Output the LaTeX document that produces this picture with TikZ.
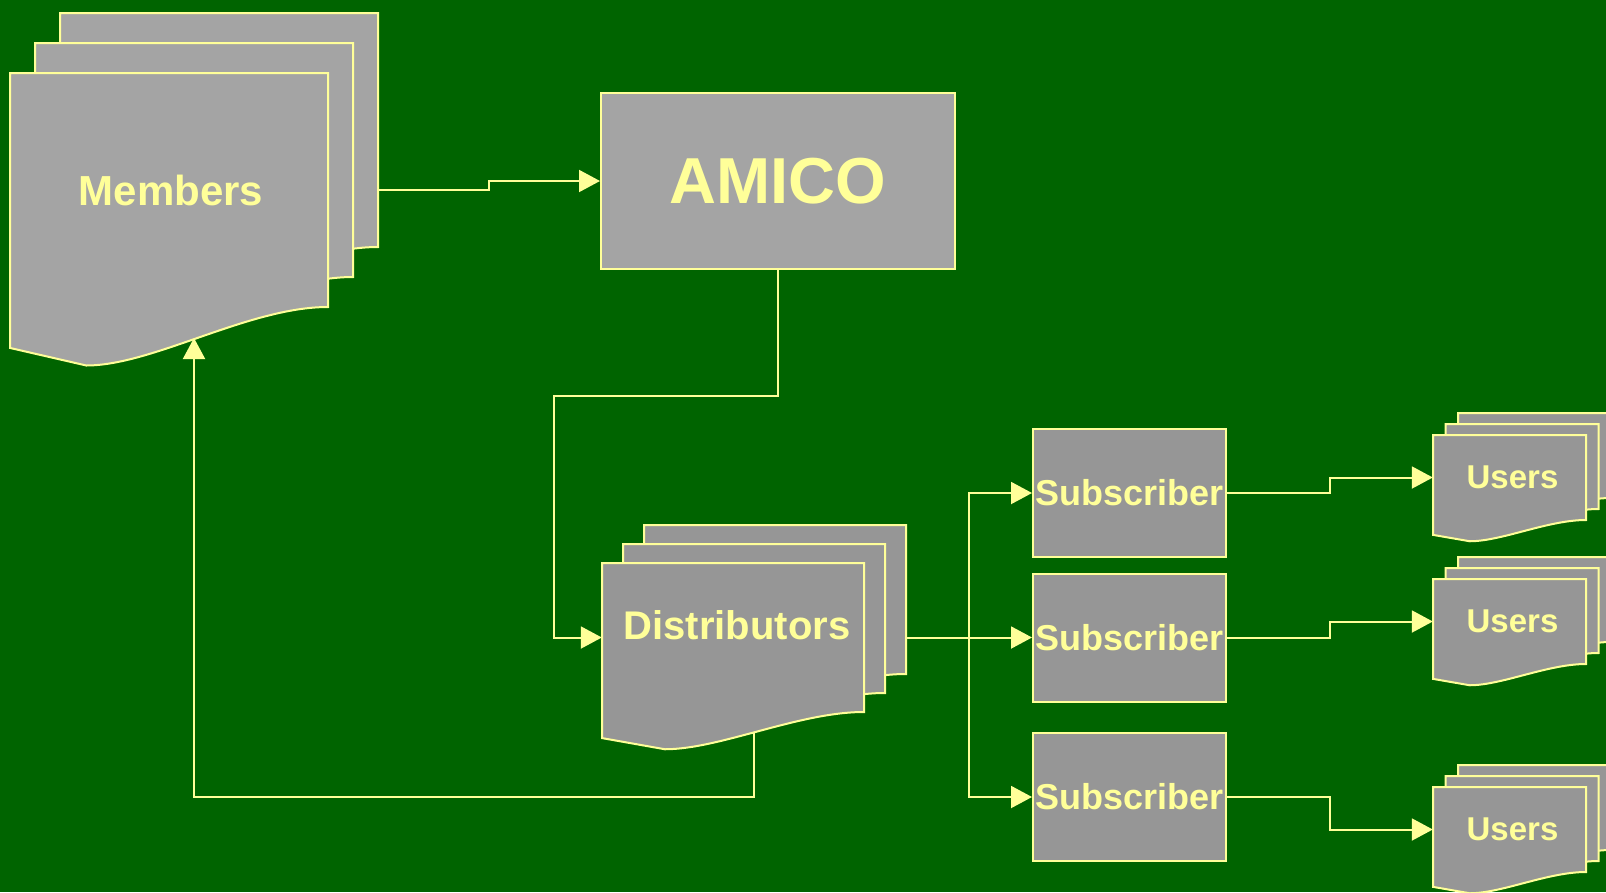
\documentclass[tikz,border=0pt]{standalone}
\usepackage{fontspec}
\setmainfont{Liberation Sans}
\usetikzlibrary{arrows.meta,positioning}

\definecolor{bggreen}{RGB}{0,100,0}
\definecolor{paleyellow}{RGB}{255,255,153}
\definecolor{sheetgray}{RGB}{164,164,164}
\definecolor{boxgray}{RGB}{150,150,150}

\tikzset{
  outline/.style={draw=paleyellow, line width=2pt},
  wire/.style={draw=paleyellow, line width=2pt},
  arr/.style={wire, -{Triangle[length=21pt,width=22pt]}},
  doclabel/.style={text=paleyellow, inner sep=0pt},
  subbox/.style={outline, fill=boxgray, text=paleyellow, inner sep=0pt,
    minimum width=193pt, minimum height=128pt,
    font=\bfseries\fontsize{36}{40}\selectfont},
  amicobox/.style={outline, fill=sheetgray, text=paleyellow, inner sep=0pt,
    minimum width=354pt, minimum height=176pt,
    font=\bfseries\fontsize{65}{70}\selectfont}
}

% one sheet of a document: x, y, width, height, fill
\newcommand{\docsheet}[5]{%
  \filldraw[outline, fill=#5] (#1,#2) -- (#1+#3,#2) -- (#1+#3,#2+#4)
    .. controls (#1+0.75*#3,#2+#4) and (#1+0.45*#3,#2+1.25*#4) .. (#1+0.24*#3,#2+1.25*#4)
    -- (#1,#2+1.175*#4) -- cycle;}

% stack of three sheets: name, x, y, width, height, dx, dy, fill
\newcommand{\docstack}[8]{%
  \docsheet{#2+2*#6}{#3-2*#7}{#4}{#5}{#8}
  \docsheet{#2+#6}{#3-#7}{#4}{#5}{#8}
  \docsheet{#2}{#3}{#4}{#5}{#8}
  \path (#2+#4/2,#3+#5/2) node[inner sep=0pt, minimum width=#4pt, minimum height=#5pt] (#1) {};
  \path (#2+2*#6+#4/2,#3-2*#7+#5/2) node[inner sep=0pt, minimum width=#4pt, minimum height=#5pt] (#1-back) {};}

\begin{document}
\begin{tikzpicture}[x=1pt, y=-1pt]
  \fill[bggreen] (0,0) rectangle (1606,892);
  \useasboundingbox (0,0) rectangle (1606,892);
  \clip (0,0) rectangle (1606,892);

  % document stacks
  \docstack{members}{10}{73}{318}{234}{25}{30}{sheetgray}
  \docstack{dist}{602}{563}{262}{149}{21}{19}{boxgray}
  \docstack{users1}{1433}{435}{153}{85}{12.5}{11}{boxgray}
  \docstack{users2}{1433}{579}{153}{85}{12.5}{11}{boxgray}
  \docstack{users3}{1433}{787}{153}{85}{12.5}{11}{boxgray}

  \node[doclabel, font=\bfseries\fontsize{42}{48}\selectfont, xshift=2pt] (members-text) at (members) {Members};
  \node[doclabel, font=\bfseries\fontsize{40}{46}\selectfont, xshift=4pt, yshift=12pt] (dist-text) at (dist) {Distributors};
  \node[doclabel, font=\bfseries\fontsize{33}{38}\selectfont, xshift=3pt] (users1-text) at (users1) {Users};
  \node[doclabel, font=\bfseries\fontsize{33}{38}\selectfont, xshift=3pt] (users2-text) at (users2) {Users};
  \node[doclabel, font=\bfseries\fontsize{33}{38}\selectfont, xshift=3pt] (users3-text) at (users3) {Users};

  % boxes
  \node[amicobox] (amico) at (778,181) {AMICO};
  \node[subbox] (sub1) at (1129.5,493) {Subscriber};
  \node[subbox] (sub2) at (1129.5,637.5) {Subscriber};
  \node[subbox] (sub3) at (1129.5,797) {Subscriber};

  % connectors
  \coordinate (amico-bend) at (554,396);
  \coordinate (dist-foot) at (754,733);
  \coordinate (members-foot) at (194,338);
  \coordinate (split) at (969,637.5);

  \draw[arr] (members -| members-back.east) -- ++(111,0) |- (amico);
  \draw[arr] (amico) |- (amico-bend) |- (dist);
  \draw[arr] (dist-foot) -- ++(0,64) -| (members-foot);
  \draw[wire] (dist -| dist-back.east) -- (split);
  \draw[arr] (split) |- (sub1);
  \draw[arr] (split) -- (sub2);
  \draw[arr] (split) |- (sub3);
  \draw[arr] (sub1.east) -- ++(103,0) |- (users1);
  \draw[arr] (sub2.east) -- ++(103,0) |- (users2);
  \draw[arr] (sub3.east) -- ++(103,0) |- (users3);
\end{tikzpicture}
\end{document}
